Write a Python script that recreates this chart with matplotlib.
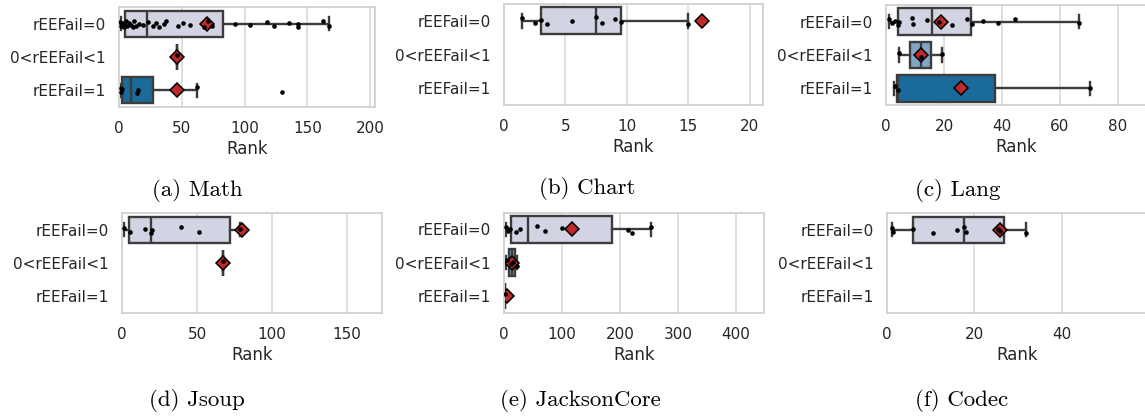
import matplotlib
matplotlib.use("Agg")
import matplotlib.pyplot as plt
import colorsys

W, H = 1145, 418

categories = ["rEEFail=0", "0<rEEFail<1", "rEEFail=1"]

# ---- data: box statistics (whislo, q1, med, q3, whishi, mean) per category, None = no data
projects = ["Math", "Chart", "Lang", "Jsoup", "JacksonCore", "Codec"]
captions = ["(a) Math", "(b) Chart", "(c) Lang", "(d) Jsoup", "(e) JacksonCore", "(f) Codec"]

math_stats = [(1, 4.5, 22.4, 83, 167.3, 69.7), (46, 46, 46, 46, 46, 46), (1.5, 1.9, 9.3, 27.1, 62.2, 46.3)]
chart_stats = [(1.5, 3.0, 7.5, 9.5, 15.0, 16.1), None, None]
lang_stats = [(1.1, 4.2, 15.7, 29.3, 66.5, 18.9), (4.6, 8.3, 12.0, 15.5, 19.2, 12.0), (2.8, 3.7, 4.0, 37.5, 70.3, 25.8)]
jsoup_stats = [(1.1, 4.5, 19.4, 71.9, 78.5, 79.7), (67, 67, 67, 67, 67, 67), None]
jackson_stats = [(3.4, 12, 41.8, 186.5, 253, 118), (3.4, 9.2, 14, 18.9, 22.9, 14), (2, 2, 2, 2, 2, 5.5)]
codec_stats = [(1.3, 6.1, 17.6, 26.7, 31.7, 25.8), None, None]

# ---- data: individual ranks shown as points
math_points = [
    [0.2, 1.5, 2.0, 3.4, 4.0, 5.4, 6.5, 8.0, 9.0, 10.6, 12.0, 13.3, 16.0, 18.6, 22.6, 26.6, 29.3, 31.9,
     36.0, 37.3, 46.5, 51.0, 56.3, 67.5, 71.0, 73.6, 92.3, 104.2, 117.6, 123.4, 135.1, 142.3, 142.6,
     162.3, 167.3],
    [46],
    [1.0, 1.5, 2.0, 14.0, 15.0, 62.2, 129.6],
]
chart_points = [[1.5, 2.5, 3.0, 3.5, 5.5, 7.5, 8.0, 9.0, 9.5, 15.0], [], []]
lang_points = [
    [1.15, 2.0, 3.1, 4.0, 4.6, 8.8, 9.2, 14.0, 18.4, 22.6, 27.8, 29.8, 33.5, 38.5, 44.4, 66.5],
    [4.6, 12.0, 19.2],
    [3.0, 4.0, 70.3],
]
jsoup_points = [[1.1, 5.2, 15.0, 19.4, 19.6, 39.5, 51.0, 78.5], [67], []]
jackson_points = [[3.4, 7.4, 11.0, 20.0, 28.0, 56.0, 71.0, 100.0, 214.0, 220.0, 253.0],
                  [5.0, 12.0, 16.0, 22.0], [2.3]]
codec_points = [[1.3, 1.5, 6.1, 10.5, 16.1, 17.6, 18.2, 25.4, 25.8, 31.7], [], []]

all_stats = [math_stats, chart_stats, lang_stats, jsoup_stats, jackson_stats, codec_stats]
all_points = [math_points, chart_points, lang_points, jsoup_points, jackson_points, codec_points]

xlims = [204, 21.1, 90, 173.6, 448, 59.4]
xticks = [[0, 50, 100, 150, 200], [0, 5, 10, 15, 20], [0, 20, 40, 60, 80],
          [0, 50, 100, 150], [0, 100, 200, 300, 400], [0, 20, 40]]

# ---- layout (pixels: left, right, top, bottom of each axes)
boxes_px = [(119.3, 375, 7.3, 106.7), (504, 763.3, 4, 105), (886, 1147, 5, 105),
            (122.3, 382, 213.3, 312.7), (504, 764, 212.7, 312.7), (886.7, 1147, 213.3, 312.7)]
caption_px = [(197, 190), (587, 188), (958, 190), (197, 400), (580, 400), (962, 400)]

# ---- colours
base = ["#d0d1e6", "#74a9cf", "#0570b0"]


def desat(hexc, prop=0.75):
    rgb = matplotlib.colors.to_rgb(hexc)
    h, l, s = colorsys.rgb_to_hls(*rgb)
    return colorsys.hls_to_rgb(h, l, s * prop)


face = [desat(c) for c in base]
line_gray = "#3c3c3c"
red = "#c0282a"
lw = 1.7

jit = [-0.07, 0.05, -0.02, 0.09, 0.0, -0.1, 0.06, -0.04, 0.02, 0.1, -0.08, 0.07, -0.01, 0.03]

fig = plt.figure(figsize=(W / 100, H / 100), dpi=100)

for k in range(6):
    l, r, t, b = boxes_px[k]
    ax = fig.add_axes([l / W, 1 - b / H, (r - l) / W, (b - t) / H])
    ax.set_axisbelow(True)
    ax.grid(axis="x", color="#d6d6d6", linewidth=1.1)
    for sp in ax.spines.values():
        sp.set_color("#d3d3d3")
        sp.set_linewidth(1.4)

    for i, st in enumerate(all_stats[k]):
        if st is None:
            continue
        wl, q1, med, q3, wh, mean = st
        d = dict(whislo=wl, q1=q1, med=med, q3=q3, whishi=wh, mean=mean, fliers=[], label=categories[i])
        ax.bxp([d], positions=[i], widths=0.8, orientation="horizontal", patch_artist=True,
               showmeans=True, showfliers=False, manage_ticks=False, capwidths=0.4,
               boxprops=dict(facecolor=face[i], edgecolor=line_gray, linewidth=lw),
               whiskerprops=dict(color=line_gray, linewidth=lw),
               capprops=dict(color=line_gray, linewidth=lw),
               medianprops=dict(color=line_gray, linewidth=lw),
               meanprops=dict(marker="D", markerfacecolor=red, markeredgecolor="black",
                              markeredgewidth=1.1, markersize=7.5))

    for i, pts in enumerate(all_points[k]):
        if not pts:
            continue
        ys = [i + jit[j % len(jit)] for j in range(len(pts))]
        ax.scatter(pts, ys, s=11, color="black", zorder=5, linewidths=0)

    ax.set_ylim(2.5, -0.5)
    ax.set_yticks(range(3))
    ax.set_yticklabels(categories)
    ax.set_xlim(0, xlims[k])
    ax.set_xticks(xticks[k])
    ax.tick_params(axis="y", length=0, pad=9.5, labelcolor="#262626", labelsize=11)
    ax.tick_params(axis="x", length=0, pad=10, labelcolor="#262626", labelsize=11)
    ax.set_xlabel("Rank", fontsize=12, color="#262626", labelpad=3)

    cx, cy = caption_px[k]
    fig.text(cx / W, 1 - cy / H, captions[k], family="cmr10", fontsize=16.5,
             ha="center", va="center", color="black")

fig.savefig("out.png", dpi=100)
